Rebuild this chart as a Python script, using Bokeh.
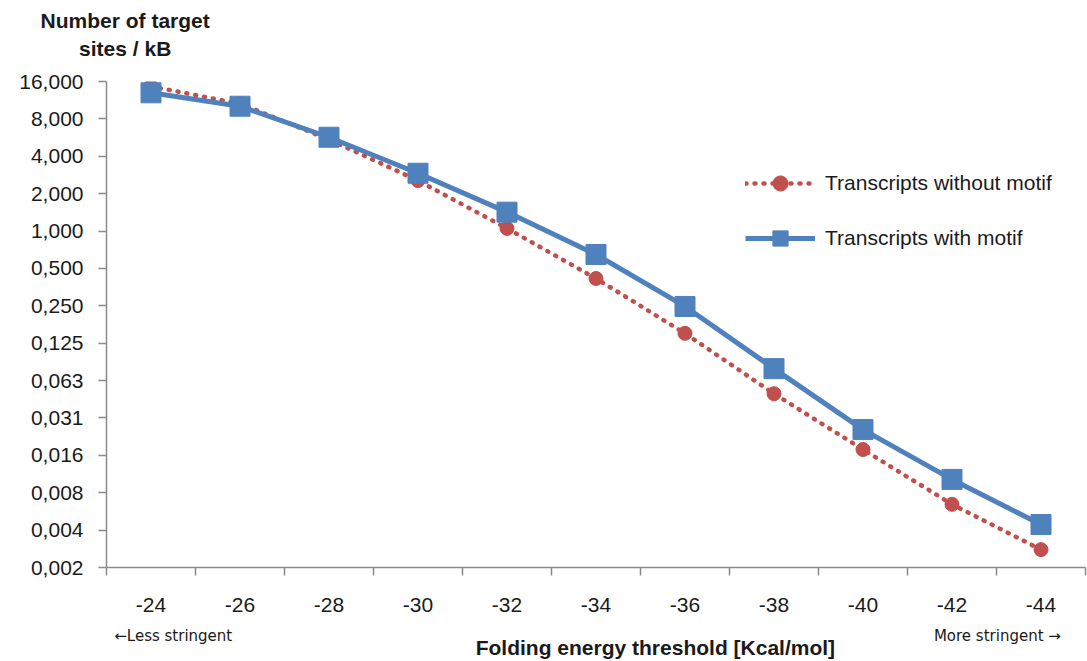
from bokeh.plotting import figure
from bokeh.models import (Range1d, FixedTicker, CustomJSTickFormatter, Legend, LegendItem,
                          LinearAxis, LogAxis)
from bokeh.embed import file_html
from bokeh.resources import INLINE

# ---- data ----
thresholds = ["-24", "-26", "-28", "-30", "-32", "-34", "-36", "-38", "-40", "-42", "-44"]
without_motif = [14.6, 10.6, 5.46, 2.55, 1.05, 0.415, 0.150, 0.049, 0.0174, 0.0063, 0.00272]
with_motif = [12.98, 10.12, 5.69, 2.92, 1.42, 0.647, 0.247, 0.078, 0.0252, 0.0100, 0.00433]
y_ticks = [0.001953125, 0.00390625, 0.0078125, 0.015625, 0.03125, 0.0625, 0.125,
           0.25, 0.5, 1.0, 2.0, 4.0, 8.0, 16.0]
y_tick_labels = ["0,002", "0,004", "0,008", "0,016", "0,031", "0,063", "0,125",
                 "0,250", "0,500", "1,000", "2,000", "4,000", "8,000", "16,000"]
series_names = ["Transcripts without motif", "Transcripts with motif"]
y_title = ["Number of target", "sites / kB"]
x_title = "Folding energy threshold  [Kcal/mol]"
x_notes = ["\u2190Less stringent", "More stringent \u2192"]

x_idx = list(range(len(thresholds)))

RED = "#C0504D"
BLUE = "#4F81BD"
AXIS = "#8a8a8a"
TXT = "#1a1a1a"
FONT = "Liberation Sans"

p = figure(width=1087, height=661, output_backend="svg", toolbar_location=None,
           x_range=Range1d(-0.5, len(thresholds) - 0.5),
           y_range=Range1d(y_ticks[0], y_ticks[-1]),
           y_axis_type="log", x_axis_location=None, y_axis_location=None,
           min_border_left=106, min_border_right=2, min_border_top=81, min_border_bottom=94)
p.outline_line_color = None
p.xgrid.visible = False
p.ygrid.visible = False

# ---- category axis ----
xaxis = LinearAxis(
    ticker=FixedTicker(ticks=x_idx, minor_ticks=[i - 0.5 for i in range(len(thresholds) + 1)]),
    formatter=CustomJSTickFormatter(args=dict(labels=thresholds),
                                    code="return labels[Math.round(tick)] || '';"),
)
xaxis.axis_line_color = AXIS
xaxis.axis_line_width = 1.5
xaxis.major_tick_out = 0
xaxis.major_tick_in = 0
xaxis.minor_tick_out = 8
xaxis.minor_tick_in = 0
xaxis.minor_tick_line_color = AXIS
xaxis.minor_tick_line_width = 1.5
xaxis.major_label_standoff = 22
xaxis.major_label_text_font = FONT
xaxis.major_label_text_font_size = "21px"
xaxis.major_label_text_color = TXT
p.add_layout(xaxis, "below")

# ---- log value axis ----
yaxis = LogAxis(
    ticker=FixedTicker(ticks=y_ticks),
    formatter=CustomJSTickFormatter(args=dict(labels=y_tick_labels),
                                    code="return labels[Math.round(Math.log2(tick)) + 9] || '';"),
)
yaxis.axis_line_color = AXIS
yaxis.axis_line_width = 1.5
yaxis.major_tick_out = 8
yaxis.major_tick_in = 0
yaxis.major_tick_line_color = AXIS
yaxis.major_tick_line_width = 1.5
yaxis.minor_tick_out = 0
yaxis.minor_tick_in = 0
yaxis.major_label_standoff = 15
yaxis.major_label_text_font = FONT
yaxis.major_label_text_font_size = "21px"
yaxis.major_label_text_color = TXT
p.add_layout(yaxis, "left")


# ---- text-only axes used for titles / notes (not clipped by the frame) ----
def text_axis(where, positions, labels, font, size, style, standoff):
    ax = LinearAxis(
        ticker=FixedTicker(ticks=positions),
        formatter=CustomJSTickFormatter(
            args=dict(pos=positions, labels=labels),
            code="""
let best = 0;
for (let i = 1; i < pos.length; i++) {
  if (Math.abs(pos[i] - tick) < Math.abs(pos[best] - tick)) best = i;
}
return labels[best];
"""),
    )
    ax.axis_line_color = None
    ax.major_tick_line_color = None
    ax.minor_tick_line_color = None
    ax.major_tick_out = 0
    ax.major_tick_in = 0
    ax.minor_tick_out = 0
    ax.minor_tick_in = 0
    ax.major_label_standoff = standoff
    ax.major_label_text_font = font
    ax.major_label_text_font_size = size
    ax.major_label_text_font_style = style
    ax.major_label_text_color = TXT
    p.add_layout(ax, where)
    return ax


# y title (two lines above the frame, first added is nearest the frame)
text_axis("above", [-0.29], [y_title[1]], FONT, "21px", "bold", 22)
text_axis("above", [-0.29], [y_title[0]], FONT, "21px", "bold", 2)
# notes under the category labels
text_axis("below", [0.25, 9.51], x_notes, "DejaVu Sans", "15px", "normal", 12)
# x title
text_axis("below", [5.7], [x_title], FONT, "21px", "bold", -12)

# ---- series ----
r_line = p.line(x_idx, without_motif, line_color=RED, line_width=4.5,
                line_dash="1 8", line_cap="round")
r_pts = p.scatter(x_idx, without_motif, marker="circle", size=14,
                  fill_color=RED, line_color=RED)
b_line = p.line(x_idx, with_motif, line_color=BLUE, line_width=5)
b_pts = p.scatter(x_idx, with_motif, marker="square", size=20,
                  fill_color=BLUE, line_color=BLUE)

legend = Legend(items=[LegendItem(label=series_names[0], renderers=[r_line, r_pts]),
                       LegendItem(label=series_names[1], renderers=[b_line, b_pts])],
                location=(639, 310))
legend.glyph_width = 70
legend.glyph_height = 38
legend.label_height = 38
legend.spacing = 17
legend.padding = 0
legend.margin = 0
legend.label_standoff = 10
legend.border_line_color = None
legend.background_fill_alpha = 0
legend.label_text_font = FONT
legend.label_text_font_size = "21px"
legend.label_text_color = TXT
p.add_layout(legend, "center")

open("out.html", "w").write(file_html(p, INLINE))
